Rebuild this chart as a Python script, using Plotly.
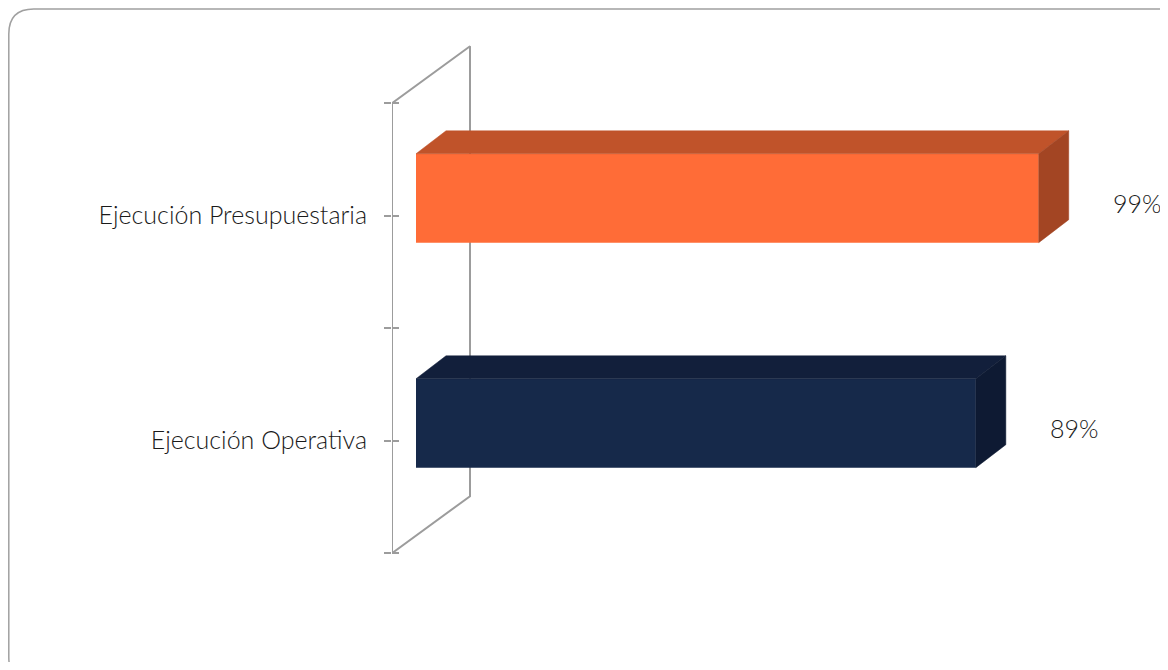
import plotly.graph_objects as go

# ---- data ----
categories = ["Ejecución Operativa", "Ejecución Presupuestaria"]
values = [89, 99]
value_labels = ["89%", "99%"]

# ---- style / geometry ----
W, H = 1160, 654          # page has an 8px body margin
front_colors = ["#16294A", "#FF6C37"]
top_colors = ["#121F3B", "#C0532A"]
side_colors = ["#0E1A33", "#A34523"]

BAR_WIDTH = 0.395
BAR_OFFSET = -0.12
BAR_DX, BAR_DY = 4.77, 0.102      # depth offset of bars (x units, y units)
WALL_X0 = -3.815                   # front wall position in value units
WALL_DX, WALL_DY = 12.4, 0.253     # depth of the wall
X_RANGE = [-3.815, 116.69]
Y_RANGE = [-0.575, 1.825]
FONT = "Lato"

ypos = list(range(len(categories)))

fig = go.Figure()

# wall (behind bars) on main axes
wx = [WALL_X0, WALL_X0, WALL_X0 + WALL_DX, WALL_X0 + WALL_DX, WALL_X0]
wy = [-0.5, 1.5, 1.5 + WALL_DY, -0.5 + WALL_DY, -0.5]
fig.add_trace(go.Scatter(x=wx, y=wy, mode="lines",
                         line=dict(color="#9C9C9C", width=2),
                         hoverinfo="skip", showlegend=False,
                         xaxis="x", yaxis="y"))

# front faces as real bars, on overlay axis
fig.add_trace(go.Bar(x=values, y=ypos, orientation="h",
                     width=BAR_WIDTH, offset=BAR_OFFSET, base=0,
                     marker=dict(color=front_colors, line=dict(width=0)),
                     showlegend=False, xaxis="x", yaxis="y2"))

# 3D top and side faces derived from the values
for yi, v, tc, sc in zip(ypos, values, top_colors, side_colors):
    y_lo = yi + BAR_OFFSET
    y_hi = yi + BAR_OFFSET + BAR_WIDTH
    fig.add_trace(go.Scatter(
        x=[0, BAR_DX, v + BAR_DX, v, 0],
        y=[y_hi, y_hi + BAR_DY, y_hi + BAR_DY, y_hi, y_hi],
        fill="toself", fillcolor=tc, mode="lines",
        line=dict(color=tc, width=0.5),
        hoverinfo="skip", showlegend=False, xaxis="x", yaxis="y2"))
    fig.add_trace(go.Scatter(
        x=[v, v + BAR_DX, v + BAR_DX, v, v],
        y=[y_lo, y_lo + BAR_DY, y_hi + BAR_DY, y_hi, y_lo],
        fill="toself", fillcolor=sc, mode="lines",
        line=dict(color=sc, width=0.5),
        hoverinfo="skip", showlegend=False, xaxis="x", yaxis="y2"))

# value labels
for yi, v, lab in zip(ypos, values, value_labels):
    fig.add_annotation(x=v + 11.5, y=yi + 0.055, xref="x", yref="y",
                       text=lab, showarrow=False, xanchor="left",
                       yanchor="middle",
                       font=dict(family=FONT, size=25, color="#1A1A1A",
                                 weight=300))

tickvals = [-0.5, 0, 0.5, 1, 1.5]
ticktext = ["", categories[0], "", categories[1], ""]

x_dom = [384 / W, 1142 / W]
y_dom = [1 - 562 / H, 1 - 22 / H]

fig.update_layout(
    width=W, height=H,
    margin=dict(l=0, r=0, t=0, b=0),
    paper_bgcolor="white", plot_bgcolor="rgba(0,0,0,0)",
    showlegend=False,
    xaxis=dict(domain=x_dom, range=X_RANGE, visible=False, fixedrange=True),
    yaxis=dict(domain=y_dom, range=Y_RANGE, tickvals=tickvals,
               ticktext=ticktext, ticks="outside", ticklen=7,
               tickwidth=1.5, tickcolor="#9C9C9C", showgrid=False,
               zeroline=False, showline=False, ticklabelstandoff=12,
               tickfont=dict(family=FONT, size=25, color="#1A1A1A",
                             weight=300)),
    yaxis2=dict(overlaying="y", side="left", anchor="x", range=Y_RANGE,
                tickvals=tickvals, ticktext=["", "", "", "", ""],
                ticks="inside", ticklen=7, tickwidth=1.5,
                tickcolor="#9C9C9C", showgrid=False, zeroline=False,
                showline=False, showticklabels=False),
)

# rounded border frame (decoration)
def px(x):
    return x / W

def py(y):
    return 1 - y / H

L, T, R, B, r = 0.8, 1, 1174, 674, 25
path = (f"M {px(L + r)} {py(T)} L {px(R - r)} {py(T)} "
        f"Q {px(R)} {py(T)} {px(R)} {py(T + r)} "
        f"L {px(R)} {py(B - r)} Q {px(R)} {py(B)} {px(R - r)} {py(B)} "
        f"L {px(L + r)} {py(B)} Q {px(L)} {py(B)} {px(L)} {py(B - r)} "
        f"L {px(L)} {py(T + r)} Q {px(L)} {py(T)} {px(L + r)} {py(T)} Z")
fig.add_shape(type="path", path=path, xref="paper", yref="paper",
              line=dict(color="#A0A0A0", width=1.5), layer="below")

fig.write_html("out.html")
